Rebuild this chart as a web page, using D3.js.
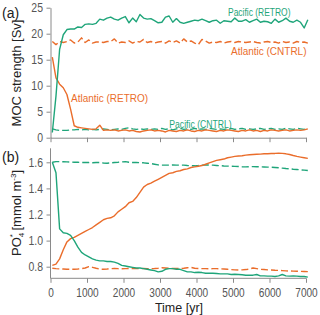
<!DOCTYPE html>
<html><head><meta charset="utf-8">
<script src="https://cdn.jsdelivr.net/npm/d3@7"></script>
<style>
html,body{margin:0;padding:0;background:#fff;}
svg{display:block;font-family:"Liberation Sans",Arial,sans-serif;}
</style></head>
<body><svg id="c" width="320" height="315"></svg>
<script>
const years = [50,150,250,350,450,550,650,750,850,950,1050,1150,1250,1350,1450,1550,1650,1750,1850,1950,
2050,2150,2250,2350,2450,2550,2650,2750,2850,2950,3050,3150,3250,3350,3450,3550,3650,3750,3850,3950,
4050,4150,4250,4350,4450,4550,4650,4750,4850,4950,5050,5150,5250,5350,5450,5550,5650,5750,5850,5950,
6050,6150,6250,6350,6450,6550,6650,6750,6850,6950,7050];

// Panel (a): MOC strength [Sv]
const mocPacRetro = [1.0,8.0,17.0,19.8,20.8,20.9,20.9,21.3,21.2,21.8,
21.9,21.8,22.0,22.8,22.6,23.0,23.2,22.8,22.6,23.0,
23.3,22.1,23.0,22.3,23.7,23.0,22.8,22.9,22.5,22.1,
22.2,23.2,23.4,22.2,22.9,22.2,22.0,22.2,22.4,22.6,
22.5,22.8,22.5,22.2,22.5,22.6,22.0,22.5,22.4,22.3,
23.0,22.4,22.4,22.7,22.2,22.5,22.8,22.2,22.4,22.3,
22.0,22.8,22.2,22.5,23.0,22.4,22.2,22.6,22.2,21.1,22.7];
const mocAtlCntrl = [18.5,17.9,18.5,18.3,18.5,18.8,18.2,18.4,19.2,18.3,
18.8,18.2,18.4,18.4,18.3,18.5,18.5,19.0,18.2,18.4,
18.3,18.6,18.2,18.5,18.4,18.9,18.3,18.5,18.2,18.4,
18.5,18.2,18.6,18.3,18.6,18.2,19.0,18.4,18.6,18.2,
17.9,18.9,18.6,18.2,18.4,18.3,18.5,18.2,18.4,18.5,
18.3,18.5,18.4,18.3,18.4,18.5,18.3,18.2,18.4,18.5,
18.3,18.4,18.2,18.5,18.3,18.4,18.2,18.5,18.3,18.4,18.2];
const mocAtlRetro = [15.5,11.5,10.3,9.6,8.3,5.5,2.3,2.0,1.9,1.8,
1.7,1.6,1.7,2.4,1.4,1.5,1.4,1.5,1.3,1.4,
1.5,1.3,1.4,1.2,1.1,1.3,1.4,1.5,1.3,1.4,
1.3,1.1,1.4,1.3,1.2,1.4,1.3,1.5,1.3,1.2,
1.4,1.3,1.5,1.4,1.3,1.2,1.4,1.3,1.5,1.4,
1.3,1.2,1.4,1.3,1.5,1.3,1.4,1.2,1.4,1.3,
1.5,1.4,1.3,1.4,1.5,1.3,1.4,1.5,1.4,1.5,1.7];
const mocPacCntrl = [1.7,1.5,1.4,1.4,1.4,1.5,1.5,1.6,1.5,1.6,
1.5,1.6,1.5,1.6,1.7,1.6,1.5,1.6,1.7,1.6,
1.8,1.9,1.7,1.6,1.7,1.6,1.7,1.6,1.7,1.6,
1.8,1.6,1.7,1.5,1.7,1.8,1.6,1.7,1.6,1.8,
1.6,1.7,1.6,1.8,1.7,1.6,1.7,1.6,1.7,1.8,
1.6,1.7,1.8,1.6,1.7,1.6,1.7,1.8,1.6,1.7,
1.8,1.6,1.7,1.6,1.8,1.7,1.6,1.8,1.7,1.6,1.8];

// Panel (b): PO4* [mmol m-3]
const poPacRetro = [1.60,1.52,1.09,1.06,1.055,1.04,1.00,0.95,0.91,0.89,
0.875,0.86,0.85,0.845,0.845,0.84,0.84,0.835,0.825,0.81,
0.805,0.80,0.795,0.79,0.79,0.785,0.78,0.775,0.77,0.76,
0.765,0.78,0.785,0.785,0.78,0.78,0.77,0.76,0.76,0.755,
0.757,0.755,0.75,0.75,0.75,0.748,0.745,0.745,0.745,0.74,
0.742,0.74,0.738,0.735,0.735,0.735,0.74,0.73,0.73,0.728,
0.728,0.725,0.73,0.74,0.73,0.728,0.73,0.728,0.725,0.725,0.72];
const poAtlRetro = [0.81,0.82,0.86,0.93,0.99,1.015,1.025,1.04,1.055,1.07,
1.085,1.10,1.12,1.14,1.16,1.17,1.175,1.19,1.22,1.24,
1.26,1.29,1.30,1.33,1.37,1.41,1.43,1.44,1.455,1.47,
1.485,1.50,1.515,1.52,1.53,1.535,1.545,1.55,1.56,1.565,
1.57,1.575,1.585,1.595,1.605,1.615,1.62,1.625,1.635,1.64,
1.645,1.648,1.65,1.655,1.658,1.66,1.662,1.663,1.665,1.666,
1.667,1.668,1.67,1.668,1.665,1.66,1.652,1.645,1.64,1.635,1.63];
const poPacCntrl = [1.600,1.605,1.605,1.604,1.603,1.602,1.600,1.600,1.598,1.598,
1.598,1.597,1.598,1.598,1.595,1.593,1.595,1.598,1.600,1.603,
1.605,1.600,1.598,1.598,1.597,1.596,1.593,1.590,1.585,1.580,
1.578,1.578,1.578,1.580,1.578,1.578,1.578,1.575,1.574,1.573,
1.575,1.578,1.580,1.579,1.578,1.576,1.574,1.572,1.571,1.570,
1.569,1.568,1.566,1.565,1.566,1.567,1.566,1.565,1.564,1.563,
1.562,1.560,1.558,1.555,1.552,1.550,1.547,1.545,1.542,1.540,1.537];
const poAtlCntrl = [0.788,0.785,0.783,0.782,0.780,0.780,0.780,0.782,0.785,0.790,
0.800,0.795,0.788,0.782,0.780,0.782,0.785,0.786,0.785,0.784,
0.785,0.786,0.785,0.785,0.785,0.786,0.785,0.785,0.786,0.788,
0.792,0.790,0.788,0.786,0.787,0.786,0.788,0.792,0.795,0.788,
0.786,0.785,0.785,0.784,0.785,0.785,0.784,0.782,0.780,0.778,
0.776,0.775,0.776,0.778,0.782,0.790,0.785,0.780,0.778,0.776,
0.775,0.773,0.772,0.770,0.768,0.767,0.766,0.765,0.764,0.763,0.762];

const xTicks = [0,1000,2000,3000,4000,5000,6000,7000];
const yTicksA = [0,5,10,15,20,25];
const yTicksB = [0.8,1.0,1.2,1.4,1.6];

const GREEN = "#1fa57a", ORANGE = "#ea6d2b";
const AXIS = "#8a8a8a", TICKTXT = "#555";
const SQ = 0.84; // horizontal text compression

const svg = d3.select("#c");
const x = d3.scaleLinear().domain([0,7000]).range([50.5,306]);
const yA = d3.scaleLinear().domain([0,25]).range([137.7,7.7]);
const yB = d3.scaleLinear().domain([0.8,1.6]).range([266.7,162.3]);

function styleAxis(g){
  g.select(".domain").attr("stroke",AXIS).attr("stroke-width",1);
  g.selectAll(".tick line").attr("stroke",AXIS);
  g.selectAll(".tick text").attr("fill",TICKTXT).style("font-size","12px");
}

// Panel (a) axes
const gxA = svg.append("g").attr("transform","translate(0,137.7)")
  .call(d3.axisBottom(x).tickValues(xTicks).tickSize(4.5).tickSizeOuter(0).tickFormat(""));
styleAxis(gxA);
const gyA = svg.append("g").attr("transform","translate(50.5,0)")
  .call(d3.axisLeft(yA).tickValues(yTicksA).tickSize(4).tickSizeOuter(0).tickPadding(3.5));
styleAxis(gyA);
gyA.selectAll(".tick text").style("font-size","12.5px").attr("x",-7.5/SQ).attr("transform",`scale(${SQ},1)`);

// Panel (b) axes
const yBbot = 278.3, yBtop = 148.3;
const gxB = svg.append("g").attr("transform",`translate(0,${yBbot})`)
  .call(d3.axisBottom(x).tickValues(xTicks).tickSize(4.5).tickSizeOuter(0).tickPadding(5.5).tickFormat(d3.format("d")));
styleAxis(gxB);
gxB.selectAll(".tick text").attr("transform",`scale(${SQ},1)`);
const gyB = svg.append("g").attr("transform","translate(50.5,0)")
  .call(d3.axisLeft(yB).tickValues(yTicksB).tickSize(4).tickSizeOuter(0).tickFormat(d3.format(".1f")));
styleAxis(gyB);
gyB.selectAll(".tick text").style("font-size","12.5px").attr("x",-7.5/SQ).attr("transform",`scale(${SQ},1)`);
gyB.select(".domain").attr("d",`M0,${yBtop}V${yBbot}`);
gxB.select(".domain").attr("d",`M50.5,0H306`);

// lines
function drawLine(vals, y, color, dashed){
  const line = d3.line().x((d,i)=>x(years[i])).y(d=>y(d));
  svg.append("path").datum(vals).attr("d",line).attr("fill","none")
    .attr("stroke",color).attr("stroke-width",1.4).attr("stroke-linejoin","round")
    .attr("stroke-dasharray",dashed?"7,3":null);
}
drawLine(mocAtlCntrl,yA,ORANGE,true);
drawLine(mocPacCntrl,yA,GREEN,true);
drawLine(mocAtlRetro,yA,ORANGE,false);
drawLine(mocPacRetro,yA,GREEN,false);

drawLine(poAtlCntrl,yB,ORANGE,true);
drawLine(poPacCntrl,yB,GREEN,true);
drawLine(poAtlRetro,yB,ORANGE,false);
drawLine(poPacRetro,yB,GREEN,false);

// annotations
function ann(txt,x0,yb,len,color){
  svg.append("text").attr("x",x0).attr("y",yb).attr("fill",color)
    .style("font-size","10px").attr("textLength",len).attr("lengthAdjust","spacingAndGlyphs").text(txt);
}
ann("Pacific (RETRO)",228,15.8,62.5,GREEN);
ann("Atlantic (CNTRL)",231,54.5,75.5,ORANGE);
ann("Atlantic (RETRO)",71,102.3,77,ORANGE);
ann("Pacific (CNTRL)",169.3,127.8,62.4,GREEN);

// panel labels
svg.append("text").attr("x",2).attr("y",17.5).attr("fill","#222").style("font-size","14px").text("(a)");
svg.append("text").attr("x",2).attr("y",162).attr("fill","#222").style("font-size","14px").text("(b)");

// axis titles
svg.append("text").attr("transform","translate(21,73) rotate(-90)").attr("text-anchor","middle")
  .attr("fill","#222").style("font-size","13px").text("MOC strength [Sv]");
const tB = svg.append("text").attr("transform","translate(21,213) rotate(-90)").attr("text-anchor","middle")
  .attr("fill","#222").style("font-size","13px");
tB.append("tspan").text("PO");
tB.append("tspan").attr("dy",3).style("font-size","8px").text("4");
tB.append("tspan").attr("dx",-4.5).attr("dy",-9).style("font-size","8px").text("*");
tB.append("tspan").attr("dy",6).text(" [mmol m");
tB.append("tspan").attr("dy",-5).style("font-size","8px").text("-3");
tB.append("tspan").attr("dy",5).text("]");

svg.append("text").attr("x",179).attr("y",312).attr("text-anchor","middle")
  .attr("fill","#222").style("font-size","12.5px").text("Time [yr]");
</script></body></html>
